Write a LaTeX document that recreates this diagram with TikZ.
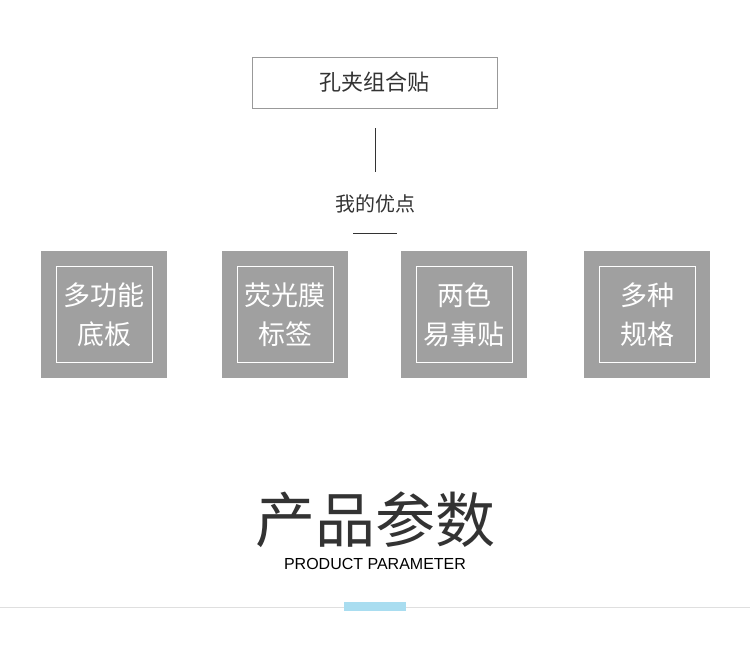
\documentclass[tikz,border=0pt]{standalone}
\usepackage{fontspec}
\setmainfont{Liberation Sans}
\newfontfamily\cjk{Noto Sans CJK SC}
\definecolor{sq}{HTML}{A0A0A0}
\definecolor{tx}{HTML}{333333}
\definecolor{bl}{HTML}{A9DDF0}
\begin{document}
\begin{tikzpicture}[x=1pt,y=-1pt,
  feat/.style={fill=sq,draw=none,minimum width=126pt,minimum height=127pt,inner sep=0},
  inner/.style={draw=white,line width=1pt,minimum width=96pt,minimum height=96pt,inner sep=0,text=white,align=center,font=\cjk\fontsize{27}{39}\selectfont}]
\useasboundingbox[fill=white] (0,0) rectangle (750,656);
\node[draw=gray!80,line width=0.6pt,minimum width=245pt,minimum height=51pt,inner sep=0,text=tx,font=\cjk\fontsize{22}{26}\selectfont] (top) at (374.5,82.5) {孔夹组合贴};
\coordinate (v1) at (375,128); \coordinate (v2) at (375,172);
\draw[tx,line width=0.6pt] (v1) -- (v2);
\node[text=tx,font=\cjk\fontsize{20}{24}\selectfont] (adv) at (375,204) {我的优点};
\coordinate (h1) at (353,233); \coordinate (h2) at (397,233);
\draw[tx,line width=0.6pt] (h1) -- (h2);
\foreach \n/\x/\t in {a/104/{多功能\\底板},b/285/{荧光膜\\标签},c/464/{两色\\易事贴},d/647/{多种\\规格}}{
  \node[feat] (\n) at (\x,314.5) {};
  \node[inner] (\n i) at (\x,314.5) {\t};
}
\node[text=tx,font=\cjk\fontsize{60}{64}\selectfont] (title) at (375,520) {产品参数};
\node[text=black,font=\fontsize{16}{18}\selectfont] (sub) at (375,564) {PRODUCT PARAMETER};
\coordinate (l1) at (0,607); \coordinate (l2) at (750,607);
\draw[gray!25,line width=0.8pt] (l1) -- (l2);
\node[fill=bl,minimum width=62pt,minimum height=9pt,inner sep=0] (bar) at (375,606.5) {};
\end{tikzpicture}
\end{document}
